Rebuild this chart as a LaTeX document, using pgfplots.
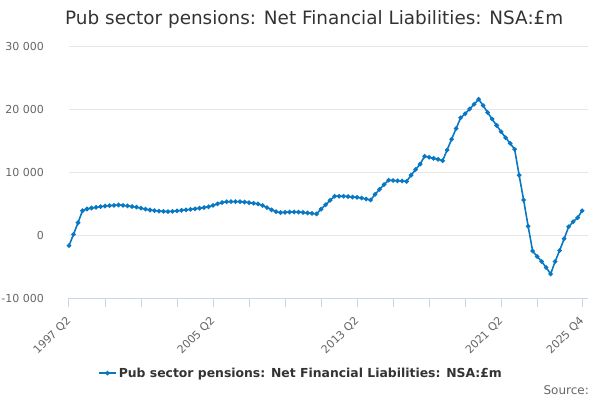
\documentclass[border=0pt]{standalone}
\usepackage{pgfplots}
\pgfplotsset{compat=1.18}
\usepackage{pgfplotstable}
\usepackage{fontspec}
\setmainfont{DejaVu Sans}
\definecolor{series}{RGB}{8,120,196}
\definecolor{titlecol}{RGB}{51,51,51}
\definecolor{labcol}{RGB}{102,102,102}
\definecolor{gridcol}{RGB}{230,230,230}
\definecolor{axcol}{RGB}{204,214,235}
\pgfplotstableread{
i v
0 -1700
1 100
2 1950
3 3850
4 4130
5 4290
6 4400
7 4500
8 4600
9 4660
10 4710
11 4760
12 4710
13 4620
14 4520
15 4420
16 4260
17 4100
18 3970
19 3870
20 3800
21 3750
22 3720
23 3760
24 3830
25 3920
26 3990
27 4070
28 4160
29 4250
30 4360
31 4480
32 4700
33 4950
34 5150
35 5280
36 5300
37 5300
38 5290
39 5230
40 5130
41 5040
42 4930
43 4680
44 4350
45 4000
46 3700
47 3560
48 3600
49 3640
50 3650
51 3630
52 3580
53 3500
54 3430
55 3350
56 4100
57 4800
58 5500
59 6150
60 6150
61 6150
62 6100
63 6020
64 5980
65 5870
66 5710
67 5550
68 6450
69 7250
70 8000
71 8700
72 8650
73 8600
74 8570
75 8500
76 9500
77 10400
78 11250
79 12500
80 12330
81 12170
82 12010
83 11800
84 13500
85 15200
86 16900
87 18600
88 19250
89 20000
90 20750
91 21550
92 20550
93 19450
94 18400
95 17400
96 16400
97 15450
98 14550
99 13600
100 9500
101 5550
102 1400
103 -2550
104 -3400
105 -4200
106 -5150
107 -6200
108 -4200
109 -2450
110 -600
111 1300
112 2100
113 2750
114 3850
}\datatable
\begin{document}
\begin{tikzpicture}
\path[use as bounding box] (0pt,0pt) rectangle (600pt,400pt);
\node[anchor=base west, inner sep=0pt, text=titlecol, font=\fontsize{18.4}{21}\selectfont] at (65pt,375pt) {Pub sector pensions: Net Financial Liabilities: NSA:£m};
\begin{axis}[
  at={(69pt,102pt)}, anchor=south west,
  scale only axis, width=519pt, height=252pt,
  xmin=0, xmax=115.3, ymin=-10000, ymax=30000,
  scaled y ticks=false,
  axis y line*=left, axis x line*=bottom,
  y axis line style={draw=none},
  x axis line style={draw=axcol, line width=1pt},
  ytick={-10000,0,10000,20000,30000},
  yticklabels={-10 000,0,10 000,20 000,30 000},
  ymajorgrids, grid style={gridcol, line width=0.8pt},
  ytick style={draw=none},
  yticklabel shift=16pt,
  yticklabel style={text=labcol, font=\fontsize{11}{13}\selectfont, anchor=east, inner sep=0pt},
  xtick={0,32,64,96,114},
  xticklabels={1997 Q2,2005 Q2,2013 Q2,2021 Q2,2025 Q4},
  minor xtick={8,16,24,40,48,56,72,80,88,104},
  tick align=outside,
  major tick length=9pt, minor tick length=9pt,
  xtick style={draw=axcol, line width=1pt},
  minor tick style={draw=axcol, line width=1pt},
  xticklabel shift=12pt,
  xticklabel style={text=labcol, font=\fontsize{11}{13}\selectfont, rotate=45, anchor=east, inner sep=0pt},
  legend style={at={(0.447,-0.298)}, anchor=center, draw=none, fill=none,
    font=\bfseries\fontsize{12.4}{14}\selectfont, text=titlecol, inner sep=0pt},
  legend cell align=left,
  clip=false,
]
\addplot[series, line width=1.6pt, mark=*, mark size=1.4pt, mark options={fill=series, draw=series}] table[x=i, y=v] {\datatable};
\addlegendentry{Pub sector pensions: Net Financial Liabilities: NSA:£m}
\end{axis}
\node[anchor=base east, inner sep=0pt, text=labcol, font=\fontsize{12}{14}\selectfont] at (589pt,6pt) {Source:};
\end{tikzpicture}
\end{document}
